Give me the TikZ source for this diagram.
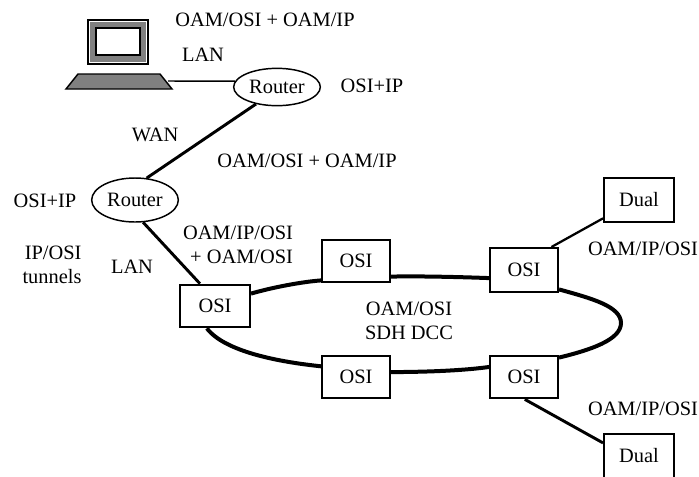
\documentclass[tikz,border=0pt]{standalone}
\usepackage{fontspec}
\setmainfont{Liberation Serif}
\usetikzlibrary{shapes.geometric}
\tikzset{
  box/.style={draw, line width=1.5pt, fill=white, minimum width=51pt, minimum height=32pt, inner sep=0pt},
  widebox/.style={box, minimum width=52.5pt},
  router/.style={draw, ellipse, line width=1.1pt, fill=white, minimum width=65pt, inner sep=0pt},
  lbl/.style={inner sep=0pt, align=center},
  thinlink/.style={line width=1.1pt},
  thicklink/.style={line width=2.2pt},
  ring/.style={line width=3pt}
}
\begin{document}
\begin{tikzpicture}[x=0.75pt, y=-0.75pt, font=\fontsize{15.3}{18}\selectfont]
  \useasboundingbox (0,0) rectangle (699,476);
  % computer
  \draw[line width=1.1pt, fill=gray] (88,20) rectangle (148,64);
  \draw[white, line width=0.5pt] (89.5,21.5) rectangle (146.5,62.5);
  \draw[line width=1.5pt, fill=white] (96,28) rectangle (140,55);
  \draw[line width=1.1pt, fill=gray] (66,89) -- (78,74) -- (160,74) -- (172,89) -- cycle;
  \coordinate (laptop) at (168,81);
  % routers
  \node[router, minimum height=28pt] (routera) at (277,87) {Router};
  \node[router, minimum height=33pt] (routerb) at (135,200) {Router};
  % boxes
  \node[widebox] (osia) at (215,306) {OSI};
  \node[box] (osib) at (356,261) {OSI};
  \node[box] (osic) at (356,377) {OSI};
  \node[box, minimum height=33pt] (osid) at (524,270) {OSI};
  \node[box] (osie) at (524,377) {OSI};
  \node[widebox, minimum height=33pt] (duala) at (639,200) {Dual};
  \node[widebox, minimum height=33pt] (dualb) at (639,456) {Dual};
  % links
  \draw[thinlink] (laptop) -- (routera.172);
  \draw[thicklink] (routera.219) -- (routerb.62);
  \draw[thicklink] (routerb.-70) -- (osia.124);
  \draw[thinlink, line width=1.7pt] (osid.40) -- (duala.207);
  \draw[thicklink] (osie.-88) -- (dualb.160);
  % ring
  \draw[ring] (osia.19) .. controls (270,288) and (300,282) .. (osib.209);
  \draw[ring] (osib.-24) .. controls (420,276) and (460,277) .. (osid.193);
  \draw[ring] (osid.-29) .. controls (590,298) and (621,306) .. (621,323) .. controls (621,340) and (590,350) .. (osie.29);
  \draw[ring] (osie.164) .. controls (460,371) and (420,372) .. (osic.8);
  \draw[ring] (osic.163) .. controls (280,362) and (225,352) .. (osia.-110);
  % labels
  \node[lbl] (top) at (265,20) {OAM/OSI + OAM/IP};
  \node[lbl] (lana) at (203,55) {LAN};
  \node[lbl] (ospa) at (372,86) {OSI+IP};
  \node[lbl] (wan) at (155,135) {WAN};
  \node[lbl] (mid) at (307,161) {OAM/OSI + OAM/IP};
  \node[lbl] (ospb) at (45,201) {OSI+IP};
  \node[lbl, align=right] (tun) at (52,265) {IP/OSI\\tunnels};
  \node[lbl] (lanb) at (132,267) {LAN};
  \node[lbl, align=right] (gate) at (238,245) {OAM/IP/OSI\\+ OAM/OSI};
  \node[lbl] (dcc) at (409,321) {OAM/OSI\\SDH DCC};
  \node[lbl] (opa) at (643,249) {OAM/IP/OSI};
  \node[lbl] (opb) at (643,409) {OAM/IP/OSI};
\end{tikzpicture}
\end{document}
